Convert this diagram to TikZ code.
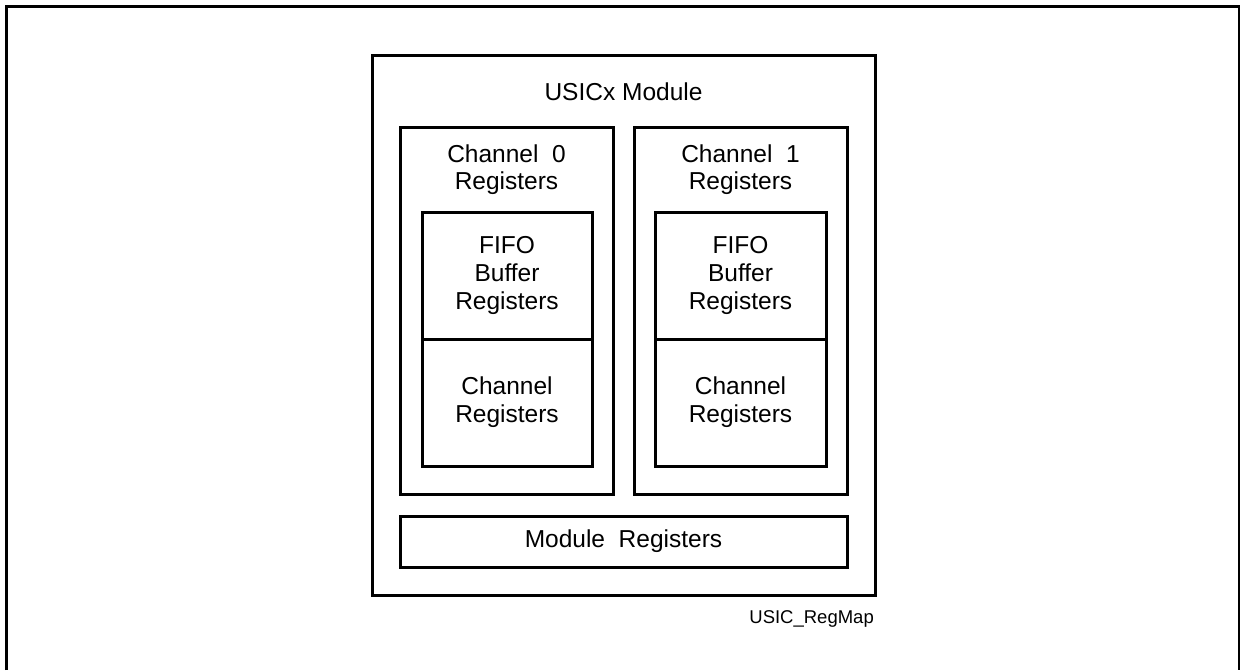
\documentclass[tikz,border=0pt]{standalone}
\usepackage{fontspec}
\setmainfont{Liberation Sans}
\begin{document}
\begin{tikzpicture}[x=1pt,y=-1pt,
  regbox/.style={draw, line width=3pt, inner sep=0pt, align=center,
    font=\fontsize{24.5}{28}\selectfont},
  lbl/.style={inner sep=0pt, align=center, font=\fontsize{24.5}{27}\selectfont},
  frameline/.style={line width=2.5pt}]
\useasboundingbox (0,0) rectangle (1241,670);
% outer frame (open at bottom)
\coordinate (fbl) at (6.5,670);
\coordinate (ftl) at (6.5,6.5);
\coordinate (ftr) at (1239,6.5);
\coordinate (fbr) at (1239,670);
\draw[frameline] (fbl) -- (ftl) -- (ftr) -- (fbr);
% module
\node[regbox, minimum width=503pt, minimum height=540pt] (module) at (623.5,325) {};
\node[lbl, anchor=north] (modtitle) at (623.5,83) {USICx Module};
% channel 0
\node[regbox, minimum width=213pt, minimum height=367pt] (ch0) at (506.5,310.5) {};
\node[lbl, anchor=north] (ch0lbl) at (506.5,145) {Channel\ \ 0\\Registers};
\node[regbox, minimum width=170pt, minimum height=127pt] (fifo0) at (507,275.5) {FIFO\\Buffer\\Registers};
\node[regbox, minimum width=170pt, minimum height=127pt] (creg0) at (507,402.5) {Channel\\Registers};
% channel 1
\node[regbox, minimum width=213pt, minimum height=367pt] (ch1) at (740.5,310.5) {};
\node[lbl, anchor=north] (ch1lbl) at (740.5,145) {Channel\ \ 1\\Registers};
\node[regbox, minimum width=171pt, minimum height=127pt] (fifo1) at (740.5,275.5) {FIFO\\Buffer\\Registers};
\node[regbox, minimum width=171pt, minimum height=127pt] (creg1) at (740.5,402.5) {Channel\\Registers};
% module registers
\node[regbox, minimum width=447pt, minimum height=51pt] (modreg) at (623.5,541.5) {Module\ \ Registers};
% caption
\node[inner sep=0pt, anchor=base east, font=\fontsize{18.5}{22}\selectfont] (cap) at (874,623) {USIC\_RegMap};
\end{tikzpicture}
\end{document}
